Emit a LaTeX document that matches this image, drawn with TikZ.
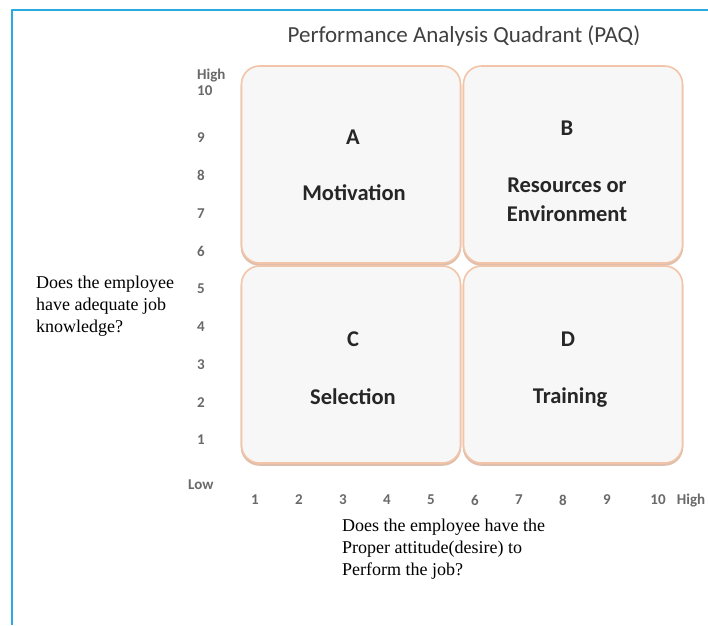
\documentclass[tikz,border=0pt]{standalone}
\usepackage{fontspec}
\setmainfont{Liberation Serif}
\newfontfamily\calibri{Carlito}
\definecolor{quadline}{RGB}{242,196,168}
\definecolor{quadshade}{RGB}{222,190,172}
\definecolor{quadfill}{RGB}{247,247,247}
\definecolor{frameblue}{RGB}{41,171,226}
\definecolor{ticktext}{RGB}{105,105,105}
\begin{document}
\begin{tikzpicture}[x=1pt,y=-1pt,line join=round,line cap=round,
		quad/.style={draw=quadline,fill=quadfill,line width=1.6pt,rounded corners=18pt,
			minimum width=219pt,minimum height=197pt,inner sep=0pt},
		quadshadow/.style={quad,draw=quadshade,fill=quadshade,yshift=-2pt},
		qlabel/.style={font=\calibri\bfseries\fontsize{22.5}{29}\selectfont,text=black!85,align=center},
		tick/.style={font=\calibri\bfseries\fontsize{15}{15}\selectfont,text=ticktext,inner sep=0pt},
		question/.style={font=\fontsize{18}{22}\selectfont,align=left,anchor=north west,inner sep=0pt}]
	\useasboundingbox (0,0) rectangle (708,625);
	\draw[frameblue,line width=2pt,line cap=butt] (12,625) -- (12,10) -- (708,10);
	\node[font=\calibri\fontsize{23}{23}\selectfont,text=black!75] (title) at (464,36) {Performance Analysis Quadrant (PAQ)};
	% the four quadrants, each with a soft shade beneath
	\node[quadshadow] (sa) at (351,164.5) {};
	\node[quadshadow] (sb) at (573,164.5) {};
	\node[quadshadow] (sc) at (351,364.5) {};
	\node[quadshadow] (sd) at (573,364.5) {};
	\node[quad] (qa) at (351,164.5) {};
	\node[quad] (qb) at (573,164.5) {};
	\node[quad] (qc) at (351,364.5) {};
	\node[quad] (qd) at (573,364.5) {};
	\node[qlabel] (la) at (353,137) {A};
	\node[qlabel] (ma) at (354,193) {Motivation};
	\node[qlabel] (lb) at (567,128) {B};
	\node[qlabel] (mb) at (567,200) {Resources or\\Environment};
	\node[qlabel] (lc) at (353,339) {C};
	\node[qlabel] (mc) at (353,397) {Selection};
	\node[qlabel] (ld) at (568,339) {D};
	\node[qlabel] (md) at (570,397) {Training};
	% scale on both sides
	\foreach \n in {1,...,9}
		\node[tick,anchor=west] (y\n) at (197,{440-(\n-1)*37.75}) {\n};
	\node[tick,anchor=west] (y10) at (197,91) {10};
	\node[tick,anchor=west] (yhigh) at (197,76) {High};
	\node[tick,anchor=west] (ylow) at (188,485) {Low};
	\foreach \n in {1,...,9}
		\node[tick] (x\n) at ({255+(\n-1)*44},500) {\n};
	\node[tick] (x10) at (658,500) {10};
	\node[tick] (xhigh) at (691,500) {High};
	% the two questions
	\node[question] (know) at (36,276) {Does the employee\\have adequate job\\knowledge?};
	\node[question] (attitude) at (342,519) {Does the employee have the\\Proper attitude(desire) to\\Perform the job?};
\end{tikzpicture}
\end{document}
